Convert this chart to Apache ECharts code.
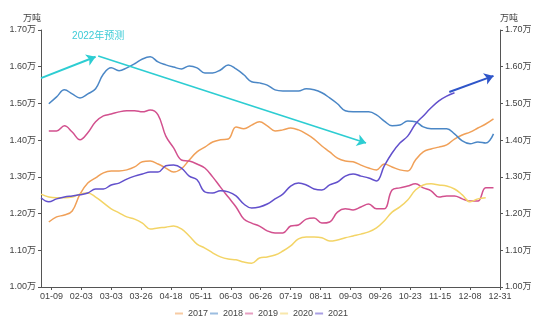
<!DOCTYPE html>
<html>
<head>
<meta charset="utf-8">
<script src="https://cdn.jsdelivr.net/npm/echarts@6/dist/echarts.min.js"></script>
<style>
html,body{margin:0;padding:0;background:#fff;}
#chart{width:550px;height:325px;}
</style>
</head>
<body>
<div id="chart"></div>
<script>
// ---- categories: calendar days (MM-DD), holiday days absent ----
const monthLengths = [31, 28, 31, 30, 31, 30, 31, 31, 30, 31, 30, 31];
const skippedDays = ['01-27', '01-28', '02-12', '02-13', '02-14', '02-15', '02-16', '10-02', '10-03', '10-04', '10-05'];
const categories = [];
for (let m = 0; m < 12; m++) {
  for (let d = 1; d <= monthLengths[m]; d++) {
    const s = String(m + 1).padStart(2, '0') + '-' + String(d).padStart(2, '0');
    if (skippedDays.indexOf(s) < 0) categories.push(s);
  }
}
// tick labels shown on the x axis
const tickLabels = ['01-09', '02-03', '03-03', '03-26', '04-18', '05-11', '06-03', '06-26', '07-19', '08-11', '09-03', '09-26', '10-23', '11-15', '12-08', '12-31'];

// values are read every 6th day (万吨)
const SAMPLE_STEP = 6;
const years = ['2017', '2018', '2019', '2020', '2021'];
const v2017 = [null, 1.177, 1.191, 1.196, 1.207, 1.253, 1.283, 1.297, 1.311, 1.316, 1.316, 1.319, 1.327, 1.341, 1.343, 1.335, 1.324, 1.313, 1.322, 1.346, 1.368, 1.381, 1.395, 1.401, 1.403, 1.436, 1.431, 1.441, 1.450, 1.439, 1.425, 1.428, 1.433, 1.428, 1.417, 1.403, 1.384, 1.368, 1.351, 1.343, 1.341, 1.332, 1.324, 1.319, 1.335, 1.327, 1.319, 1.316, 1.346, 1.368, 1.376, 1.381, 1.387, 1.403, 1.414, 1.422, 1.433, 1.444, 1.458];
const v2018 = [null, 1.499, 1.518, 1.537, 1.526, 1.515, 1.526, 1.540, 1.580, 1.597, 1.589, 1.597, 1.608, 1.621, 1.627, 1.613, 1.605, 1.599, 1.594, 1.602, 1.597, 1.583, 1.583, 1.591, 1.605, 1.594, 1.578, 1.559, 1.556, 1.550, 1.537, 1.534, 1.534, 1.534, 1.540, 1.537, 1.529, 1.515, 1.499, 1.480, 1.477, 1.477, 1.477, 1.469, 1.452, 1.439, 1.441, 1.452, 1.450, 1.436, 1.431, 1.431, 1.431, 1.417, 1.398, 1.390, 1.395, 1.392, 1.417];
const v2019 = [null, 1.425, 1.425, 1.439, 1.422, 1.401, 1.420, 1.450, 1.466, 1.471, 1.477, 1.480, 1.480, 1.477, 1.482, 1.469, 1.411, 1.379, 1.346, 1.343, 1.335, 1.324, 1.300, 1.272, 1.245, 1.218, 1.185, 1.174, 1.166, 1.153, 1.147, 1.147, 1.166, 1.169, 1.185, 1.188, 1.174, 1.177, 1.204, 1.213, 1.210, 1.218, 1.226, 1.213, 1.213, 1.264, 1.270, 1.275, 1.281, 1.270, 1.262, 1.245, 1.248, 1.248, 1.240, 1.234, 1.234, 1.270, 1.270];
const v2020 = [1.253, 1.245, 1.243, 1.243, 1.245, 1.253, 1.256, 1.245, 1.229, 1.213, 1.202, 1.191, 1.185, 1.174, 1.158, 1.161, 1.163, 1.166, 1.158, 1.139, 1.117, 1.106, 1.093, 1.082, 1.076, 1.074, 1.068, 1.065, 1.079, 1.082, 1.087, 1.098, 1.112, 1.131, 1.136, 1.136, 1.134, 1.125, 1.128, 1.134, 1.139, 1.144, 1.150, 1.161, 1.180, 1.204, 1.218, 1.237, 1.264, 1.278, 1.281, 1.278, 1.275, 1.267, 1.251, 1.232, 1.240, 1.243, null];
const v2021 = [1.243, 1.232, 1.240, 1.245, 1.248, 1.251, 1.256, 1.267, 1.267, 1.278, 1.283, 1.294, 1.302, 1.308, 1.313, 1.313, 1.330, 1.332, 1.324, 1.302, 1.292, 1.259, 1.256, 1.262, 1.259, 1.248, 1.226, 1.215, 1.218, 1.226, 1.240, 1.253, 1.275, 1.283, 1.278, 1.267, 1.264, 1.278, 1.286, 1.302, 1.308, 1.302, 1.297, 1.289, 1.330, 1.365, 1.392, 1.411, 1.444, 1.466, 1.488, 1.507, 1.520, 1.529, null, null, null, null, null];
const seriesValues = [v2017, v2018, v2019, v2020, v2021];
const colors = ['#F0A058', '#4B87C6', '#D2508E', '#F3D466', '#6250CC'];

// annotation: "2022年预测" arrows (date, value)
const forecastLabel = '2022年预测';
const forecastLabelAt = ['02-21', 1.684];
const cyanArrow1 = [['01-01', 1.569], ['02-19', 1.627]];
const cyanArrow2 = [['02-21', 1.629], ['09-15', 1.392]];
const blueArrow = [['11-22', 1.531], ['12-26', 1.575]];

const FONT = "'Liberation Sans', 'Noto Sans CJK SC', sans-serif";
const firstTickIdx = categories.indexOf(tickLabels[0]);
const tickStep = categories.indexOf(tickLabels[1]) - firstTickIdx;
const showTick = (i) => i >= firstTickIdx && (i - firstTickIdx) % tickStep === 0;

function toPairs(arr) {
  const out = [];
  arr.forEach((v, k) => { if (v !== null) out.push([categories[k * SAMPLE_STEP], v]); });
  return out;
}

const series = years.map((y, i) => ({
  name: y,
  type: 'line',
  data: toPairs(seriesValues[i]),
  smooth: 0.4,
  showSymbol: false,
  yAxisIndex: 0,
  lineStyle: { width: 1.5, color: colors[i] },
  itemStyle: { color: colors[i] },
  z: 2
}));

series[4].markLine = {
  silent: true,
  animation: false,
  symbol: ['none', 'arrow'],
  symbolSize: 9,
  label: { show: false },
  data: [
    [{ coord: cyanArrow1[0], lineStyle: { color: '#2DCDD2', width: 2, type: 'solid' } },
     { coord: cyanArrow1[1] }],
    [{ coord: cyanArrow2[0], lineStyle: { color: '#2DCDD2', width: 1.6, type: 'solid' } },
     { coord: cyanArrow2[1] }],
    [{ coord: blueArrow[0], lineStyle: { color: '#2E55C9', width: 2, type: 'solid' } },
     { coord: blueArrow[1] }]
  ]
};
series[4].markPoint = {
  silent: true,
  animation: false,
  symbol: 'circle',
  symbolSize: 0,
  label: { show: true, position: 'inside', formatter: forecastLabel, color: '#3DCBD6', fontSize: 10, fontFamily: FONT },
  data: [{ coord: forecastLabelAt }]
};

const yAxisCommon = {
  type: 'value',
  min: 1.0,
  max: 1.7,
  interval: 0.1,
  name: '万吨',
  nameGap: 7,
  splitLine: { show: false },
  axisLine: { show: true, lineStyle: { color: '#555' } },
  axisTick: { show: true, length: 3, lineStyle: { color: '#555' } },
  axisLabel: { formatter: (v) => v.toFixed(2) + '万', fontSize: 9, color: '#444', fontFamily: FONT, margin: 5 }
};

const chart = echarts.init(document.getElementById('chart'), null, { renderer: 'canvas' });
chart.setOption({
  animation: false,
  color: colors,
  textStyle: { fontFamily: FONT },
  grid: { left: 41, right: 50, top: 30, bottom: 38, containLabel: false },
  legend: {
    data: years,
    top: 304,
    left: 170,
    icon: 'rect',
    itemWidth: 8,
    itemHeight: 2,
    itemGap: 2,
    itemStyle: { opacity: 0.55 },
    textStyle: { fontSize: 9, color: '#444', fontFamily: FONT }
  },
  xAxis: {
    type: 'category',
    data: categories,
    boundaryGap: false,
    axisLine: { lineStyle: { color: '#555' } },
    axisTick: { interval: showTick, length: 3, lineStyle: { color: '#555' } },
    axisLabel: { interval: showTick, fontSize: 9, color: '#444', fontFamily: FONT, margin: 5 }
  },
  yAxis: [
    Object.assign({}, yAxisCommon, { position: 'left', nameTextStyle: { fontSize: 9, color: '#444', align: 'right', fontFamily: FONT } }),
    Object.assign({}, yAxisCommon, { position: 'right', nameTextStyle: { fontSize: 9, color: '#444', align: 'left', fontFamily: FONT } })
  ],
  series: series
});
</script>
</body>
</html>
